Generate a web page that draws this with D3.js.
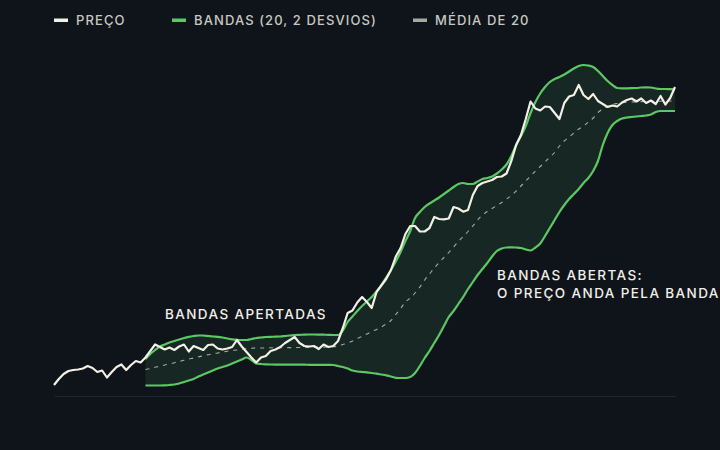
<!DOCTYPE html>
<html><head><meta charset="utf-8">
<script src="https://cdn.jsdelivr.net/npm/d3@7"></script>
<style>
html,body{margin:0;padding:0;background:#0f141b;}
svg{display:block;}
text{font-family:Inter,"Noto Sans",sans-serif;}
</style></head>
<body><svg id="c" width="720" height="450"></svg>
<script>
// Price (closing), one value per session
const price = [11.1,11.7,12.2,12.5,12.6,12.65,12.75,13.0,12.8,12.4,12.55,11.85,12.4,12.9,13.15,12.6,13.1,13.5,13.35,13.85,
14.5,15.15,14.9,14.65,14.85,14.6,14.95,15.15,14.45,15.0,14.8,14.6,15.1,15.15,14.75,14.65,14.75,14.9,15.6,14.95,
14.4,13.85,13.35,13.85,14.0,14.5,14.65,14.9,15.3,15.6,15.9,15.3,15.0,14.95,15.0,14.7,15.15,14.9,15.0,15.5,
16.8,18.3,18.55,19.35,19.9,19.4,18.8,20.4,21.05,21.7,22.6,23.95,24.8,26.2,27.0,27.0,26.45,26.45,26.8,27.9,
27.7,27.67,27.75,28.9,28.75,28.43,28.6,30.1,31.0,31.3,31.45,31.6,31.9,31.95,32.25,33.5,35.1,36.1,37.7,39.45,
38.75,38.55,38.95,38.9,38.3,37.7,39.3,39.95,40.1,41.1,40.1,39.7,40.2,39.5,39.2,38.9,39.05,38.95,39.35,39.6,
39.75,39.45,39.75,39.3,39.55,39.2,40.0,39.15,39.8,40.9];
// Bands start at session 19 (20-period window)
const bandStart = 19;
const upperBand = [13.7,14.2,14.6,14.95,15.15,15.35,15.5,15.65,15.8,15.92,16.0,16.05,16.05,16.0,15.95,15.92,15.85,15.75,15.67,15.62,
15.6,15.6,15.7,15.8,15.85,15.9,15.92,15.93,15.95,16.0,16.05,16.1,16.12,16.14,16.15,16.15,16.14,16.13,16.12,16.1,
16.1,16.55,17.4,17.95,18.5,19.0,19.45,19.9,20.45,21.1,21.85,22.6,23.45,24.4,25.5,26.5,27.8,28.4,28.9,29.25,
29.55,29.85,30.2,30.55,30.9,31.2,31.3,31.2,31.2,31.45,31.7,31.8,31.95,32.25,32.65,33.15,34.0,35.1,36.0,37.0,
38.3,39.4,40.25,40.9,41.4,41.7,41.9,42.15,42.45,42.75,43.0,43.1,43.05,42.9,42.5,42.0,41.5,41.1,40.8,40.77,
40.77,40.78,40.8,40.85,40.87,40.85,40.75,40.7,40.7,40.68,40.67];
const lowerBand = [11.05,11.05,11.05,11.05,11.07,11.1,11.15,11.25,11.4,11.55,11.7,11.95,12.15,12.35,12.55,12.75,12.9,13.05,13.25,13.45,
13.65,13.85,13.6,13.25,13.2,13.17,13.15,13.14,13.14,13.14,13.14,13.13,13.13,13.13,13.12,13.12,13.12,13.12,13.11,13.1,
13.0,12.9,12.75,12.55,12.45,12.4,12.37,12.3,12.23,12.15,12.07,11.95,11.82,11.8,11.8,11.9,12.3,13.0,13.8,14.5,
15.3,16.1,17.0,17.9,18.5,19.2,19.9,20.7,21.4,22.1,22.7,23.3,23.95,24.5,24.75,24.85,24.87,24.85,24.8,24.65,
24.55,24.85,25.25,26.0,26.8,27.6,28.4,29.1,29.7,30.2,30.7,31.3,31.8,32.5,33.5,35.1,36.3,37.1,37.5,37.75,
37.85,37.9,37.95,38.0,38.05,38.15,38.4,38.5,38.5,38.5,38.5];
const midBand = [12.65,12.75,12.87,12.98,13.1,13.2,13.33,13.45,13.57,13.7,13.8,13.92,14.02,14.12,14.22,14.3,14.4,14.48,14.55,14.6,
14.67,14.75,14.77,14.8,14.8,14.81,14.82,14.83,14.83,14.83,14.84,14.84,14.85,14.85,14.86,14.87,14.88,14.89,14.9,14.92,
15.0,15.15,15.3,15.5,15.75,15.95,16.2,16.45,16.65,16.9,17.2,17.55,18.15,18.75,19.4,19.8,20.3,20.9,21.6,22.2,
22.8,23.35,23.85,24.35,24.9,25.45,25.95,26.45,27.0,27.6,28.1,28.45,28.75,29.05,29.35,29.7,30.05,30.5,31.0,31.5,
32.0,32.5,32.95,33.4,33.9,34.35,35.0,35.5,35.9,36.3,36.7,37.0,37.4,37.8,38.35,38.7,38.95,39.15,39.25,39.32,
39.37,39.4,39.42,39.44,39.45,39.46,39.47,39.48,39.49,39.5,39.5];
const legendLabels = ["PREÇO","BANDAS (20, 2 DESVIOS)","MÉDIA DE 20"];
const annotations = [
  {text:["BANDAS APERTADAS"], at:23},
  {text:["BANDAS ABERTAS:","O PREÇO ANDA PELA BANDA"], at:92}
];

const W=720,H=450;
const m={left:54,right:45,top:46,bottom:54};
const svg=d3.select("#c");
const x=d3.scaleLinear().domain([0,price.length-1]).range([m.left,W-m.right]);
const y=d3.scaleLinear().domain([10,45]).range([H-m.bottom,m.top]);

const colors={price:"#f3f0e6",band:"#5cc864",mid:"#a9a8a0",text:"#c9c8c0",fill:"rgba(70,140,90,0.16)"};

// baseline axis
const xAxis=d3.axisBottom(x).ticks(0).tickSize(0).tickFormat("");
const gx=svg.append("g").attr("transform",`translate(0,${y(10)})`).call(xAxis);
gx.select(".domain").attr("stroke","#22272f").attr("stroke-width",1.2);

const bands=upperBand.map((u,i)=>({i:i+bandStart,u,l:lowerBand[i],m:midBand[i]}));
const curve=d3.curveMonotoneX;
svg.append("path").datum(bands)
  .attr("d",d3.area().x(d=>x(d.i)).y0(d=>y(d.l)).y1(d=>y(d.u)).curve(curve))
  .attr("fill",colors.fill);
svg.append("path").datum(bands)
  .attr("d",d3.line().x(d=>x(d.i)).y(d=>y(d.m)).curve(curve))
  .attr("fill","none").attr("stroke",colors.mid).attr("stroke-width",1.1).attr("stroke-dasharray","4,5");
["u","l"].forEach(k=>{
  svg.append("path").datum(bands)
    .attr("d",d3.line().x(d=>x(d.i)).y(d=>y(d[k])).curve(curve))
    .attr("fill","none").attr("stroke",colors.band).attr("stroke-width",2.2).attr("stroke-linejoin","round");
});
svg.append("path").datum(price)
  .attr("d",d3.line().x((d,i)=>x(i)).y(d=>y(d)))
  .attr("fill","none").attr("stroke",colors.price).attr("stroke-width",2.2).attr("stroke-linejoin","round");

// legend
const lg=svg.append("g");
const lx=[54,172,413], sw=[colors.price,colors.band,colors.mid];
legendLabels.forEach((t,k)=>{
  lg.append("rect").attr("x",lx[k]).attr("y",18.5).attr("width",14).attr("height",3.5).attr("fill",sw[k]);
  lg.append("text").attr("x",lx[k]+22).attr("y",25).text(t)
    .attr("fill",colors.text).attr("font-size",13).attr("font-weight",500).attr("letter-spacing",1.1);
});

// annotations
const ann=[{x:165,y:319},{x:497,y:280}];
annotations.forEach((a,k)=>{
  a.text.forEach((t,j)=>{
    svg.append("text").attr("x",ann[k].x).attr("y",ann[k].y+j*18).text(t)
      .attr("fill","#f1efe8").attr("font-size",13.5).attr("font-weight",500).attr("letter-spacing",1.4);
  });
});
</script></body></html>
